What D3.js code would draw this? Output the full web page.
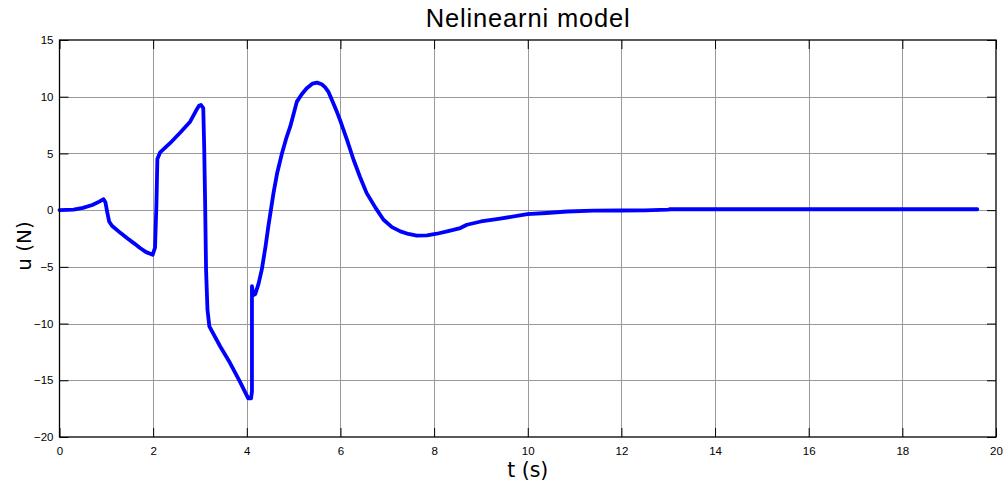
<!DOCTYPE html>
<html>
<head>
<meta charset="utf-8">
<script src="https://cdn.jsdelivr.net/npm/d3@7"></script>
<style>
  html, body { margin: 0; padding: 0; background: #fff; }
  svg { display: block; }
</style>
</head>
<body>
<script>
// ---- data ----
const titleText = "Nelinearni model";
const xLabel = "t (s)";
const yLabel = "u (N)";
const xTicks = [0, 2, 4, 6, 8, 10, 12, 14, 16, 18, 20];
const yTicks = [-20, -15, -10, -5, 0, 5, 10, 15];
const tValues = [0, 0.3, 0.5, 0.7, 0.85, 0.94, 0.98, 1.02, 1.06, 1.12, 1.3, 1.44, 1.6, 1.72, 1.85, 1.99,
  2.04, 2.07, 2.09, 2.15, 2.36, 2.57, 2.79, 2.92, 2.98, 3.02, 3.07, 3.09, 3.11, 3.13, 3.16, 3.20,
  3.43, 3.64, 3.85, 4.03, 4.09, 4.11, 4.11, 4.14, 4.18, 4.25, 4.32, 4.40, 4.46, 4.57, 4.65, 4.75, 4.84, 4.93,
  5.07, 5.17, 5.28, 5.40, 5.50, 5.60, 5.67, 5.74, 5.85, 5.93, 5.99, 6.14, 6.28, 6.42, 6.56, 6.75, 6.92, 7.10, 7.28, 7.45, 7.63,
  7.85, 8.06, 8.30, 8.56, 8.70, 9.0, 9.41, 9.99, 10.4, 10.84, 11.4, 11.98, 12.5, 13.0, 13.04, 19.6];
const uValues = [0, 0.05, 0.2, 0.45, 0.75, 0.97, 0.7, -0.2, -1.0, -1.37, -2.0, -2.46, -2.95, -3.34, -3.7, -3.93,
  -3.3, 0.5, 4.5, 5.1, 5.9, 6.8, 7.8, 8.8, 9.2, 9.28, 9.0, 5.6, 0.65, -5.25, -8.77, -10.24,
  -12.0, -13.46, -15.1, -16.6, -16.6, -16.0, -6.7, -7.5, -7.4, -6.5, -5.25, -3.2, -1.43, 1.5, 3.3, 5.0, 6.3, 7.4,
  9.57, 10.2, 10.75, 11.15, 11.24, 11.1, 10.85, 10.45, 9.4, 8.6, 7.96, 6.2, 4.44, 2.9, 1.5, 0.2, -0.85, -1.5, -1.87, -2.1, -2.25,
  -2.22, -2.08, -1.85, -1.58, -1.29, -1.0, -0.75, -0.35, -0.25, -0.12, -0.05, -0.03, -0.02, 0.05, 0.08, 0.08];

// ---- layout ----
const W = 1003, H = 484;
const plot = { left: 59.5, right: 996, top: 40, bottom: 437 };

const svg = d3.select("body").append("svg").attr("width", W).attr("height", H);

const x = d3.scaleLinear().domain([0, 20]).range([plot.left, plot.right]);
const y = d3.scaleLinear().domain([-20, 15]).range([plot.bottom, plot.top]);

// grid
const grid = svg.append("g").attr("stroke", "#9a9a9a").attr("stroke-width", 1);
xTicks.slice(1, -1).forEach(v => {
  grid.append("line").attr("x1", Math.round(x(v)) + 0.5).attr("x2", Math.round(x(v)) + 0.5)
    .attr("y1", plot.top).attr("y2", plot.bottom);
});
yTicks.slice(1, -1).forEach(v => {
  grid.append("line").attr("y1", Math.round(y(v)) + 0.5).attr("y2", Math.round(y(v)) + 0.5)
    .attr("x1", plot.left).attr("x2", plot.right);
});

// axes with inner ticks
const tickLen = 9;
const fontTick = "Liberation Sans, Arial, sans-serif";
const axB = svg.append("g").attr("transform", `translate(0,${plot.bottom})`)
  .call(d3.axisBottom(x).tickValues(xTicks).tickSizeInner(-tickLen).tickSizeOuter(0).tickPadding(10));
const axT = svg.append("g").attr("transform", `translate(0,${plot.top})`)
  .call(d3.axisTop(x).tickValues(xTicks).tickSizeInner(-tickLen).tickSizeOuter(0).tickFormat(""));
const axL = svg.append("g").attr("transform", `translate(${plot.left},0)`)
  .call(d3.axisLeft(y).tickValues(yTicks).tickSizeInner(-tickLen).tickSizeOuter(0).tickPadding(6));
const axR = svg.append("g").attr("transform", `translate(${plot.right},0)`)
  .call(d3.axisRight(y).tickValues(yTicks).tickSizeInner(-tickLen).tickSizeOuter(0).tickFormat(""));
[axB, axT, axL, axR].forEach(a => {
  a.select(".domain").remove();
  a.selectAll(".tick line").attr("stroke", "#000").attr("stroke-width", 1);
  a.selectAll(".tick text").attr("font-family", fontTick).attr("font-size", 11.5).attr("fill", "#000");
});

// data line
const pts = tValues.map((t, i) => [t, uValues[i]]);
svg.append("path")
  .datum(pts)
  .attr("fill", "none")
  .attr("stroke", "#0000ff")
  .attr("stroke-width", 3.8)
  .attr("stroke-linejoin", "round")
  .attr("stroke-linecap", "round")
  .attr("d", d3.line().x(d => x(d[0])).y(d => y(d[1])));

// frame
svg.append("rect")
  .attr("x", plot.left).attr("y", plot.top)
  .attr("width", plot.right - plot.left).attr("height", plot.bottom - plot.top)
  .attr("fill", "none").attr("stroke", "#000").attr("stroke-width", 1.3);

// title & labels
svg.append("text").attr("x", (plot.left + plot.right) / 2).attr("y", 27)
  .attr("text-anchor", "middle").attr("font-family", "Liberation Sans, Arial, sans-serif")
  .attr("font-size", 25.5).attr("fill", "#000")
  .attr("textLength", 204).attr("lengthAdjust", "spacing").text(titleText);
svg.append("text").attr("x", (plot.left + plot.right) / 2).attr("y", 477)
  .attr("text-anchor", "middle").attr("font-family", "DejaVu Sans, Verdana, sans-serif")
  .attr("font-size", 20.5).attr("fill", "#000").text(xLabel);
svg.append("text").attr("transform", `translate(31,246) rotate(-90)`)
  .attr("text-anchor", "middle").attr("font-family", "DejaVu Sans, Verdana, sans-serif")
  .attr("font-size", 20).attr("fill", "#000").text(yLabel);
</script>
</body>
</html>
